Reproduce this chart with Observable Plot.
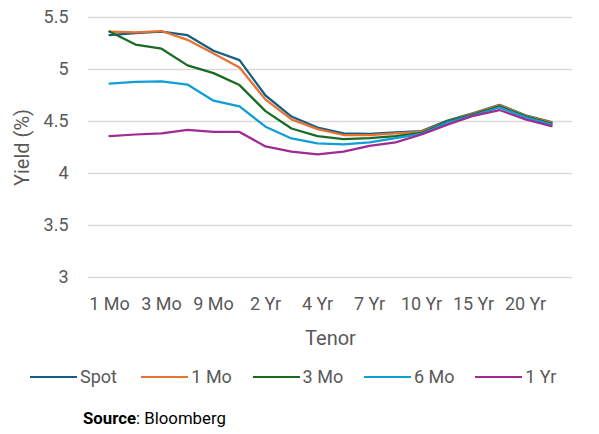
<!DOCTYPE html>
<html>
<head>
<meta charset="utf-8">
<script src="https://cdn.jsdelivr.net/npm/d3@7"></script>
<script src="https://cdn.jsdelivr.net/npm/@observablehq/plot@0.6"></script>
<style>
  html, body { margin: 0; padding: 0; background: #fff; }
  #wrap { position: relative; width: 599px; height: 434px; overflow: hidden; font-family: Roboto, sans-serif; }
  #chart { position: absolute; left: 0; top: 0; }
  #legend { position: absolute; left: 30px; top: 366.5px; height: 20px; display: flex; align-items: center; }
  .item { width: 111.3px; display: flex; align-items: center; font-size: 18px; line-height: 20px; color: #595959; }
  .swatch { display: inline-block; width: 47px; height: 2px; margin-right: 3px; }
  #source { position: absolute; left: 83px; top: 408.3px; font-size: 16.8px; line-height: 20px; color: #000; }
</style>
</head>
<body>
<div id="wrap">
  <div id="chart"></div>
  <div id="legend"></div>
  <div id="source"><b>Source</b>: Bloomberg</div>
</div>
<script>
const tenors = ["1 Mo","2 Mo","3 Mo","6 Mo","9 Mo","1 Yr","2 Yr","3 Yr","4 Yr","5 Yr","7 Yr","8 Yr","10 Yr","12 Yr","15 Yr","17 Yr","20 Yr","30 Yr"];
const labelledTenors = ["1 Mo","3 Mo","9 Mo","2 Yr","4 Yr","7 Yr","10 Yr","15 Yr","20 Yr"];
const seriesNames = ["Spot","1 Mo","3 Mo","6 Mo","1 Yr"];
const seriesColors = ["#156082","#E97132","#196B24","#0F9ED5","#A02B93"];
const yTicks = [3, 3.5, 4, 4.5, 5, 5.5];

const spot   = [5.33, 5.35, 5.365, 5.33, 5.18, 5.09, 4.75, 4.548, 4.442, 4.385, 4.38, 4.395, 4.408, 4.51, 4.58, 4.66, 4.56, 4.495];
const oneMo  = [5.365, 5.356, 5.37, 5.285, 5.154, 5.02, 4.71, 4.52, 4.427, 4.37, 4.37, 4.385, 4.40, 4.50, 4.575, 4.655, 4.555, 4.49];
const threeMo= [5.365, 5.24, 5.20, 5.04, 4.965, 4.85, 4.60, 4.433, 4.36, 4.33, 4.34, 4.36, 4.39, 4.50, 4.57, 4.645, 4.55, 4.48];
const sixMo  = [4.865, 4.88, 4.885, 4.855, 4.70, 4.645, 4.45, 4.337, 4.29, 4.28, 4.30, 4.34, 4.38, 4.49, 4.56, 4.635, 4.54, 4.47];
const oneYr  = [4.36, 4.375, 4.385, 4.42, 4.40, 4.40, 4.26, 4.21, 4.185, 4.21, 4.265, 4.30, 4.375, 4.47, 4.555, 4.61, 4.52, 4.455];

const seriesValues = [spot, oneMo, threeMo, sixMo, oneYr];
const rows = [];
seriesNames.forEach((name, si) => {
  tenors.forEach((t, i) => rows.push({series: name, tenor: t, value: seriesValues[si][i]}));
});

const textColor = "#595959";

const chart = Plot.plot({
  width: 599,
  height: 365,
  marginTop: 17,
  marginBottom: 88,
  marginLeft: 88,
  marginRight: 27,
  style: {fontFamily: "Roboto, sans-serif", fontSize: "18px", color: textColor, background: "#fff"},
  x: {type: "point", domain: tenors, padding: 0.5},
  y: {domain: [3, 5.5]},
  color: {domain: seriesNames, range: seriesColors},
  marks: [
    Plot.ruleY(yTicks, {stroke: "#d9d9d9", strokeWidth: 1.5}),
    Plot.axisY({ticks: yTicks, tickSize: 0, tickPadding: 20, tickFormat: d => `${d}`, label: null, fontSize: 18}),
    Plot.axisX({ticks: labelledTenors, tickSize: 0, tickPadding: 20, label: null, fontSize: 18}),
    Plot.line(rows, {x: "tenor", y: "value", z: "series", stroke: "series", strokeWidth: 2.25, strokeLinejoin: "round"}),
    Plot.text(["Yield (%)"], {frameAnchor: "left", dx: -66, rotate: -90, textAnchor: "middle", lineAnchor: "middle", fontSize: 20, fill: textColor}),
    Plot.text(["Tenor"], {frameAnchor: "bottom", dy: 61.5, textAnchor: "middle", lineAnchor: "middle", fontSize: 20, fill: textColor})
  ]
});
document.getElementById("chart").appendChild(chart);

const legend = document.getElementById("legend");
seriesNames.forEach((name, i) => {
  const item = document.createElement("div");
  item.className = "item";
  const sw = document.createElement("span");
  sw.className = "swatch";
  sw.style.background = seriesColors[i];
  const label = document.createElement("span");
  label.textContent = name;
  item.appendChild(sw);
  item.appendChild(label);
  legend.appendChild(item);
});
</script>
</body>
</html>
